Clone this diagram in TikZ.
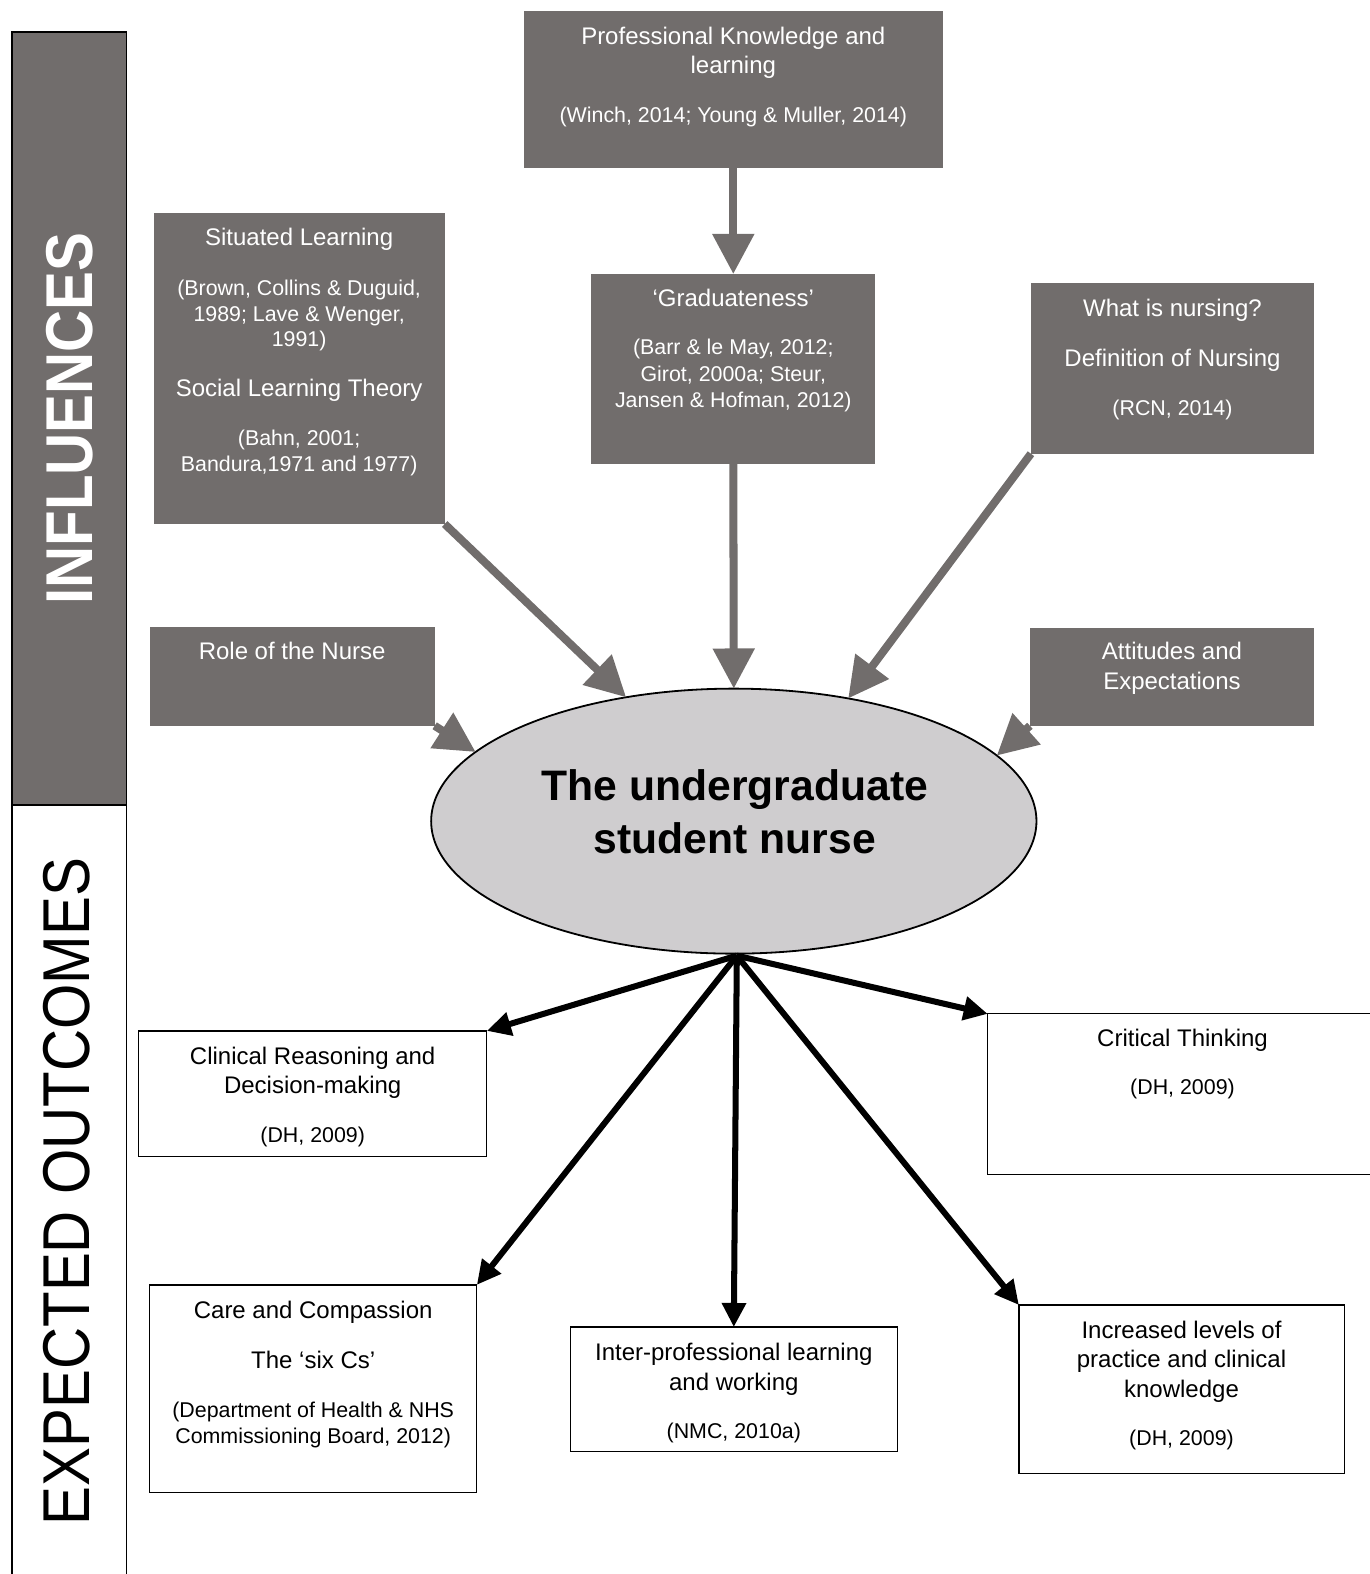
\documentclass[tikz,border=0pt]{standalone}
\usepackage{fontspec}
\usepackage{graphicx}
\setmainfont{Liberation Sans}
\usetikzlibrary{shapes.geometric,arrows.meta,calc}
\definecolor{gry}{RGB}{113,109,108}
\definecolor{ellfill}{RGB}{207,205,207}
\newcommand{\ttlfnt}{\fontsize{23.9}{26}\selectfont}
\newcommand{\citefnt}{\fontsize{21.3}{26}\selectfont}
\tikzset{
  gbox/.style={fill=gry, draw=none, inner sep=0pt, outer sep=0pt},
  wbox/.style={fill=white, draw=black, line width=1.2pt, inner sep=0pt, outer sep=0pt},
  gtxt/.style={text=white, align=center, inner sep=0pt, anchor=north, font=\ttlfnt},
  wtxt/.style={text=black, align=center, inner sep=0pt, anchor=north, font=\ttlfnt},
  garrow/.style={draw=gry, line width=8pt, -{Triangle[length=40pt,width=40pt]}},
  barrow/.style={draw=black, line width=6pt, -{Triangle[length=24pt,width=23pt]}},
  sidebar/.style={draw=black, line width=1.4pt, inner sep=0pt, outer sep=0pt, minimum width=114pt, anchor=north west}
}
\begin{document}
\begin{tikzpicture}[x=1pt,y=-1pt]
\useasboundingbox (0,0) rectangle (1364,1568);

% side bars
\node[sidebar, fill=gry, minimum height=770pt] (infbar) at (12,32) {};
\node[sidebar, fill=white, minimum height=770pt] (outbar) at (12,802) {};
\node[rotate=90, text=white, inner sep=0pt, font=\fontsize{66}{66}\selectfont\bfseries] (inftxt) at (69,417) {\scalebox{0.88}[1]{INFLUENCES}};
\node[rotate=90, text=black, inner sep=0pt, font=\fontsize{66}{66}\selectfont] (outtxt) at (66,1187) {\scalebox{0.88}[1]{EXPECTED OUTCOMES}};

% influence boxes
\node[gbox, minimum width=417pt, minimum height=156pt] (pk) at (730.5,89) {};
\node[gtxt] (pkt) at (730.5,26.5) {Professional Knowledge and\\[3pt] learning\\[23pt] {\citefnt (Winch, 2014; Young \& Muller, 2014)}};

\node[gbox, minimum width=283pt, minimum height=189pt] (grad) at (730.5,367.5) {};
\node[gtxt] (gradt) at (730.5,287.5) {‘Graduateness’\\[22pt] {\citefnt (Barr \& le May, 2012;}\\[1pt] {\citefnt Girot, 2000a; Steur,}\\ {\citefnt Jansen \& Hofman, 2012)}};

\node[gbox, minimum width=290pt, minimum height=310pt] (sit) at (298,367) {};
\node[gtxt] (sitt) at (298,227.5) {Situated Learning\\[23pt] {\citefnt (Brown, Collins \& Duguid,}\\ {\citefnt 1989; Lave \& Wenger,}\\[-1pt] {\citefnt 1991)}\\[24pt] Social Learning Theory\\[23pt] {\citefnt (Bahn, 2001;}\\ {\citefnt Bandura,1971 and 1977)}};

\node[gbox, minimum width=282pt, minimum height=170pt] (what) at (1168,367) {};
\node[gtxt] (whatt) at (1168,297.5) {What is nursing?\\[24pt] Definition of Nursing\\[23pt] {\citefnt (RCN, 2014)}};

\node[gbox, minimum width=284pt, minimum height=98pt] (role) at (291,674) {};
\node[gtxt] (rolet) at (291,639.5) {Role of the Nurse};

\node[gbox, minimum width=283pt, minimum height=97pt] (att) at (1167.5,674.5) {};
\node[gtxt] (attt) at (1167.5,639.5) {Attitudes and\\[4pt] Expectations};

% central ellipse
\node[ellipse, draw=black, line width=1.8pt, fill=ellfill, minimum width=603pt, minimum height=264pt, inner sep=0pt, outer sep=0pt] (stu) at (731,818) {};
\node[align=center, inner sep=0pt, font=\fontsize{42.5}{53}\selectfont\bfseries] (stut) at (732,809) {The undergraduate\\ student nurse};

% gray arrows
\draw[garrow] (pk.south) -- (grad.north);
\draw[garrow] (grad.south) -- (stu.north);
\draw[garrow] (sit.south east) -- (stu.131.6);
\draw[garrow] (what.south west) -- (stu.47.1);
\draw[garrow] (role.south east) -- (stu.165.7);
\draw[garrow] (att.south west) -- (stu.14.5);

% outcome boxes
\node[wbox, minimum width=347pt, minimum height=125pt] (clin) at (311.5,1089.5) {};
\node[wtxt] (clint) at (311.5,1042.5) {Clinical Reasoning and\\[3pt] Decision-making\\[23pt] {\citefnt (DH, 2009)}};

\node[wbox, minimum width=388pt, minimum height=160pt] (crit) at (1178,1090) {};
\node[wtxt] (critt) at (1178,1024.5) {Critical Thinking\\[22pt] {\citefnt (DH, 2009)}};

\node[wbox, minimum width=326pt, minimum height=207pt] (care) at (312,1383.5) {};
\node[wtxt] (caret) at (312,1295.5) {Care and Compassion\\[24pt] The ‘six Cs’\\[23pt] {\citefnt (Department of Health \& NHS}\\ {\citefnt Commissioning Board, 2012)}};

\node[wbox, minimum width=326pt, minimum height=124pt] (inter) at (731,1384) {};
\node[wtxt] (intert) at (731,1337.5) {Inter-professional learning\\[4pt] and working\\[22pt] {\citefnt (NMC, 2010a)}};

\node[wbox, minimum width=324pt, minimum height=168pt] (incr) at (1177,1384) {};
\node[wtxt] (incrt) at (1177,1315.5) {Increased levels of\\[3pt] practice and clinical\\[4pt] knowledge\\[22pt] {\citefnt (DH, 2009)}};

% black arrows
\coordinate (hub) at ($(stu.south)+(3,2)$);
\draw[barrow] (hub) -- (clin.north east);
\draw[barrow] (hub) -- (crit.north west);
\draw[barrow] (hub) -- (care.north east);
\draw[barrow] (hub) -- (inter.north);
\draw[barrow] (hub) -- (incr.north west);
\end{tikzpicture}
\end{document}
